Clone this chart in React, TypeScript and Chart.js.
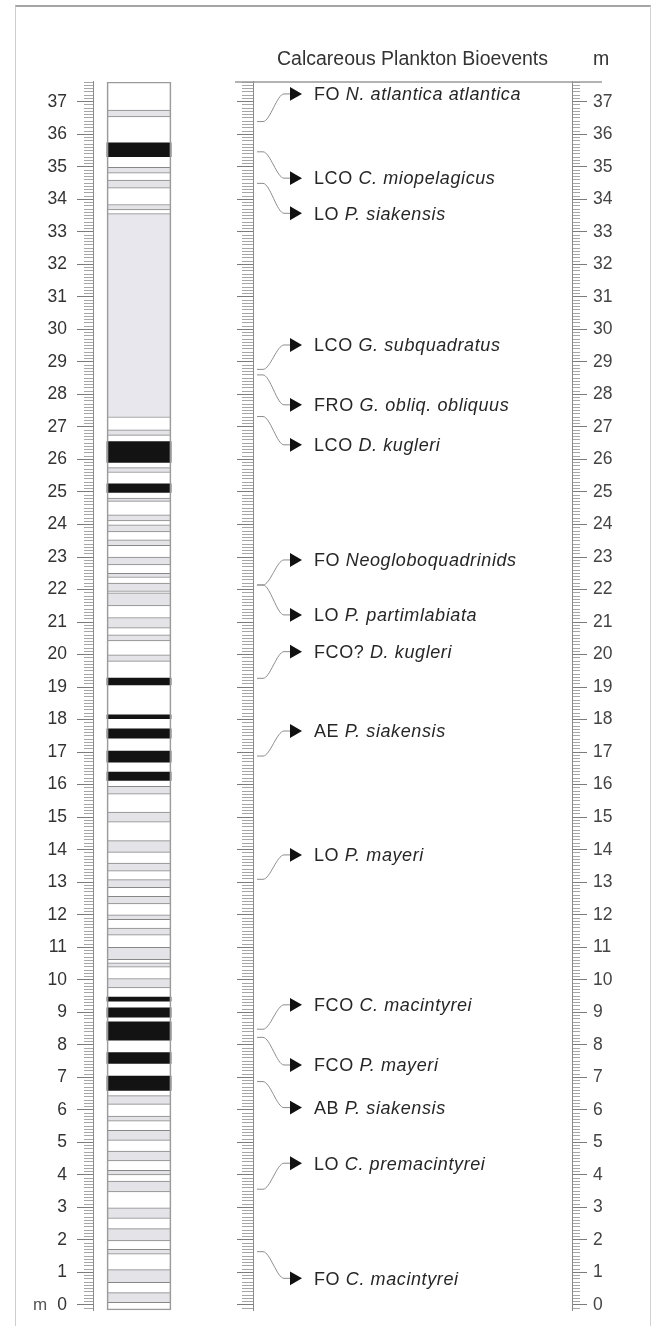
import React, { useEffect, useRef } from "react";
import { Chart, registerables } from "chart.js";

Chart.register(...registerables);

const FONT = '"Liberation Sans", Arial, Helvetica, sans-serif';

// ---------- DATA ----------
// core column extent (base, top) in m
const coreExtent: [number, number] = [-0.16, 37.61];

// lithology beds [base, top] in m
const blackBeds: [number, number][] = [
  [35.31, 35.74], [25.91, 26.55], [24.99, 25.25], [19.07, 19.28], [18.03, 18.15],
  [17.43, 17.72], [16.69, 17.03], [16.13, 16.39], [9.34, 9.47], [8.85, 9.14],
  [8.14, 8.71], [7.43, 7.76], [6.6, 7.04],
];
const greyBeds: [number, number][] = [
  [36.53, 36.74], [34.8, 34.98], [34.34, 34.59], [33.67, 33.84],
  [26.74, 26.91], [25.6, 25.75], [24.71, 24.81], [24.11, 24.3], [23.77, 23.99], [23.35, 23.53],
  [22.76, 23.0], [22.37, 22.5], [21.94, 22.2], [21.5, 21.9], [20.81, 21.14], [20.42, 20.61],
  [19.79, 19.99], [15.71, 15.95], [14.85, 15.16], [13.92, 14.28], [13.34, 13.59], [12.83, 13.08],
  [12.33, 12.57], [11.85, 12.0], [11.37, 11.59], [10.62, 11.0], [10.39, 10.52], [9.75, 10.04],
  [6.17, 6.44], [5.65, 5.81], [5.06, 5.37], [4.43, 4.73], [4.0, 4.14], [3.48, 3.81],
  [2.66, 2.99], [1.97, 2.35], [1.56, 1.71], [0.69, 1.09], [0.07, 0.38],
];
const paleBeds: [number, number][] = [[27.29, 33.56]];

// bioevents
const eventCodes = ["FO", "LCO", "LO", "LCO", "FRO", "LCO", "FO", "LO", "FCO?", "AE", "LO", "FCO", "FCO", "AB", "LO", "FO"];
const eventTaxa = [
  "N. atlantica atlantica", "C. miopelagicus", "P. siakensis", "G. subquadratus",
  "G. obliq. obliquus", "D. kugleri", "Neogloboquadrinids", "P. partimlabiata",
  "D. kugleri", "P. siakensis", "P. mayeri", "C. macintyrei", "P. mayeri",
  "P. siakensis", "C. premacintyrei", "C. macintyrei",
];
// depth of the event on the ruler (m)
const eventDepths = [36.39, 35.46, 34.49, 28.77, 28.6, 27.32, 22.14, 22.14, 19.27, 16.88, 13.09, 8.48, 8.23, 6.87, 3.56, 1.64];
// depth where the label is written (m)
const labelDepths = [37.24, 34.65, 33.57, 29.52, 27.68, 26.45, 22.91, 21.22, 20.09, 17.65, 13.84, 9.23, 7.38, 6.07, 4.36, 0.82];

// ---------- LAYOUT CONSTANTS ----------
const PANEL_X = { lineStart: 4, lineBend1: 10, lineBend2: 31, lineEnd: 37, arrow: 41, text: 61, width: 319 };

const isMajor = (v: number) => Math.abs(v - Math.round(v)) < 1e-6;

function rulerAxis(opts: any) {
  const { position, tickLength, minorDash, labels, padding, width, color } = opts;
  return {
    type: "linear",
    position,
    min: coreExtent[0],
    max: coreExtent[1],
    afterFit: (s: any) => {
      s.width = width;
      s.paddingTop = 0;
      s.paddingBottom = 0;
    },
    border: { display: true, color: "#8a8a8a", width: 1 },
    grid: {
      drawOnChartArea: false,
      drawTicks: true,
      tickLength,
      tickColor: (c: any) => (c.tick && isMajor(c.tick.value) ? "#7c7c7c" : "#a6a6a6"),
      tickWidth: 1,
      tickBorderDash: (c: any) => (c.tick && isMajor(c.tick.value) ? [] : minorDash),
    },
    ticks: {
      display: labels,
      stepSize: 0.1,
      autoSkip: false,
      includeBounds: false,
      padding,
      color,
      font: { family: FONT, size: 17.5 },
      callback: (v: any) => (isMajor(Number(v)) && Number(v) >= 0 ? String(Math.round(Number(v))) : ""),
    },
  };
}

function CoreChart() {
  const ref = useRef<HTMLCanvasElement>(null);
  useEffect(() => {
    const toBars = (arr: [number, number][]) => arr.map(([a, b]) => ({ x: "core", y: [a, b] }));
    const unitPlugin = {
      id: "unitM",
      afterDraw(chart: any) {
        const { ctx, scales } = chart;
        ctx.save();
        ctx.fillStyle = "#555";
        ctx.font = `17px ${FONT}`;
        ctx.textAlign = "left";
        ctx.textBaseline = "middle";
        ctx.fillText("m", 33, scales.y.getPixelForValue(0));
        ctx.restore();
      },
    };
    const chart = new Chart(ref.current as HTMLCanvasElement, {
      type: "bar",
      data: {
        labels: ["core"],
        datasets: [
          { label: "frame", data: toBars([coreExtent]), backgroundColor: "rgba(0,0,0,0)", borderColor: "#9b9b9b", borderWidth: 1, order: 0 },
          { label: "pale", data: toBars(paleBeds), backgroundColor: "#e9e7ee", borderColor: "#8c8c8c", borderWidth: { top: 1, bottom: 1, left: 0, right: 0 }, order: 1 },
          { label: "grey", data: toBars(greyBeds), backgroundColor: "#e3e3e8", borderColor: "#878787", borderWidth: { top: 1, bottom: 1, left: 0, right: 0 }, order: 1 },
          { label: "black", data: toBars(blackBeds), backgroundColor: "#131313", borderWidth: 0, order: 1 },
        ] as any,
      },
      options: {
        responsive: false,
        animation: false,
        events: [],
        datasets: { bar: { grouped: false, barThickness: 64, borderSkipped: false } } as any,
        layout: { padding: { top: 51.9, bottom: 39.8, left: 0, right: 15 } },
        plugins: { legend: { display: false }, tooltip: { enabled: false }, title: { display: false } },
        scales: {
          x: { type: "category", display: false },
          y: rulerAxis({ position: "left", tickLength: 16, minorDash: [0, 7, 100], labels: true, padding: 10, width: 93, color: "#333" }),
        } as any,
      },
      plugins: [unitPlugin],
    } as any);
    return () => chart.destroy();
  }, []);
  return (
    <canvas ref={ref} width={200} height={1320} style={{ position: "absolute", left: 0, top: 30, width: 200, height: 1320 }} />
  );
}

function EventsChart() {
  const ref = useRef<HTMLCanvasElement>(null);
  useEffect(() => {
    const decor = {
      id: "panelDecor",
      afterDatasetsDraw(chart: any) {
        const { ctx, chartArea, scales } = chart;
        const xs = scales.x;
        const ys = scales.y;
        ctx.save();
        ctx.strokeStyle = "#9a9a9a";
        ctx.lineWidth = 1.5;
        ctx.beginPath();
        ctx.moveTo(chartArea.left - 18, chartArea.top);
        ctx.lineTo(chartArea.right + 30, chartArea.top);
        ctx.stroke();

        ctx.fillStyle = "#333";
        ctx.font = `19.5px ${FONT}`;
        ctx.textBaseline = "alphabetic";
        ctx.textAlign = "center";
        ctx.fillText("Calcareous Plankton Bioevents", (chartArea.left + chartArea.right) / 2, chartArea.top - 17);
        ctx.textAlign = "left";
        ctx.fillText("m", chartArea.right + 21, chartArea.top - 17);

        ctx.fillStyle = "#262626";
        (ctx as any).letterSpacing = "0.6px";
        const x = xs.getPixelForValue(PANEL_X.text);
        eventCodes.forEach((code, i) => {
          const y = ys.getPixelForValue(labelDepths[i]) + 6.3;
          ctx.font = `18px ${FONT}`;
          const head = code + " ";
          ctx.fillText(head, x, y);
          const w = ctx.measureText(head).width;
          ctx.font = `italic 18px ${FONT}`;
          ctx.fillText(eventTaxa[i], x + w, y);
        });
        (ctx as any).letterSpacing = "0px";
        ctx.restore();
      },
    };

    const connectors = eventDepths.map((d, i) => ({
      type: "line",
      showLine: true,
      data: [
        { x: PANEL_X.lineStart, y: d },
        { x: PANEL_X.lineBend1, y: d },
        { x: PANEL_X.lineBend2, y: labelDepths[i] },
        { x: PANEL_X.lineEnd, y: labelDepths[i] },
      ],
      borderColor: "#8c8c8c",
      borderWidth: 1,
      pointRadius: 0,
      cubicInterpolationMode: "monotone",
      fill: false,
      order: 2,
    }));

    const chart = new Chart(ref.current as HTMLCanvasElement, {
      type: "scatter",
      data: {
        datasets: [
          {
            label: "bioevents",
            data: labelDepths.map((d) => ({ x: PANEL_X.arrow, y: d })),
            pointStyle: "triangle",
            rotation: 90,
            radius: 8,
            backgroundColor: "#111",
            borderColor: "#111",
            borderWidth: 0,
            order: 1,
          },
          ...connectors,
        ] as any,
      },
      options: {
        responsive: false,
        animation: false,
        events: [],
        layout: { padding: { top: 51.9, bottom: 39.8, left: 0, right: 0 } },
        plugins: { legend: { display: false }, tooltip: { enabled: false }, title: { display: false } },
        scales: {
          x: { type: "linear", min: 0, max: PANEL_X.width, display: false },
          y: rulerAxis({ position: "left", tickLength: 16, minorDash: [0, 5, 100], labels: false, padding: 0, width: 53, color: "#444" }),
          y2: rulerAxis({ position: "right", tickLength: 15, minorDash: [7, 100], labels: true, padding: 6, width: 83, color: "#444" }),
        } as any,
      },
      plugins: [decor],
    } as any);
    return () => chart.destroy();
  }, []);
  return (
    <canvas ref={ref} width={455} height={1320} style={{ position: "absolute", left: 200, top: 30, width: 455, height: 1320 }} />
  );
}

export default function App() {
  return (
    <div style={{ position: "absolute", left: 0, top: 0, width: 655, height: 1326, overflow: "hidden", background: "#fff" }}>
      <div
        style={{
          position: "absolute", left: 15, top: 5, width: 636, height: 1340, boxSizing: "border-box",
          borderTop: "2px solid #a4a4a4", borderLeft: "1px solid #cdcdcd", borderRight: "1px solid #d2d2d2",
        }}
      />
      <CoreChart />
      <EventsChart />
    </div>
  );
}
